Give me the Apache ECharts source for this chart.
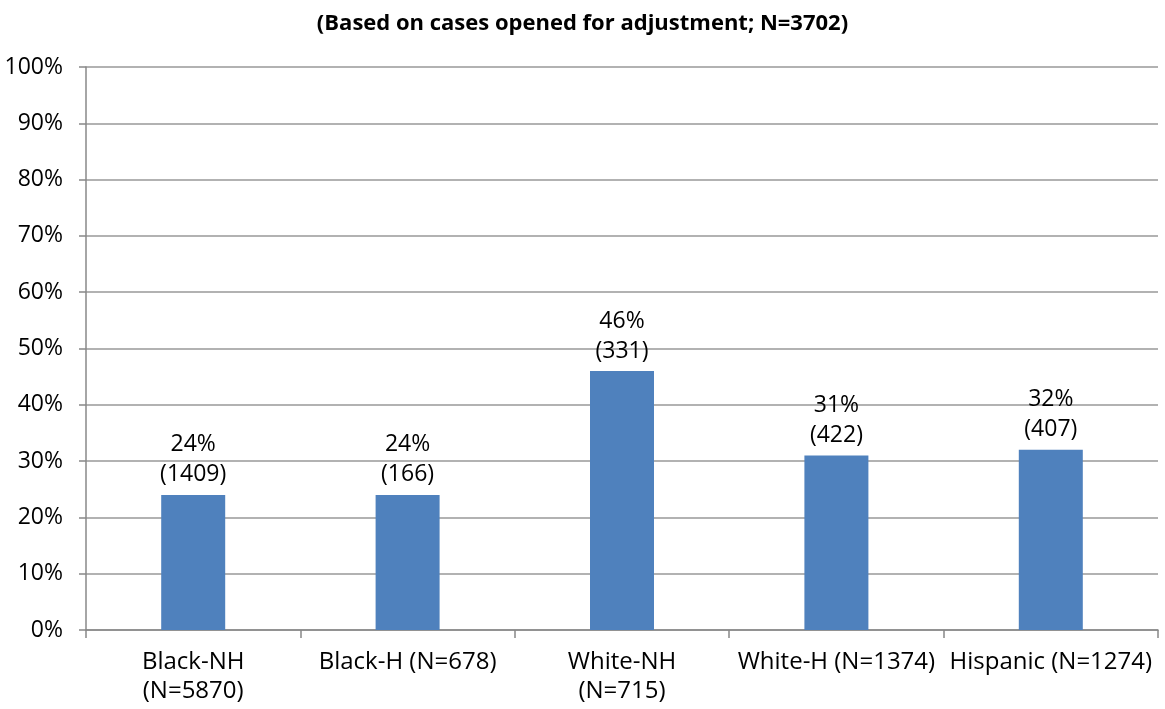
<!DOCTYPE html>
<html><head><meta charset="utf-8">
<script src="https://cdn.jsdelivr.net/npm/echarts@6/dist/echarts.min.js"></script>
<style>html,body{margin:0;padding:0;background:#fff}#c{width:1165px;height:709px}</style>
</head><body><div id="c"></div>
<script>
const categories = ["Black-NH\n(N=5870)", "Black-H (N=678)", "White-NH\n(N=715)", "White-H (N=1374)", "Hispanic (N=1274)"];
const percents = [24, 24, 46, 31, 32];
const counts = [1409, 166, 331, 422, 407];
const yTicks = [0, 10, 20, 30, 40, 50, 60, 70, 80, 90, 100];
const titleText = "(Based on cases opened for adjustment; N=3702)";

const FONT = "Open Sans";
const chart = echarts.init(document.getElementById('c'), null, {renderer: 'canvas'});
chart.setOption({
  animation: false,
  backgroundColor: '#fff',
  title: {
    text: titleText, left: 'center', top: 8,
    textStyle: {fontFamily: FONT, fontSize: 22, fontWeight: 'bold', color: '#000'}
  },
  grid: {left: 86, right: 7, top: 67, bottom: 79, containLabel: false},
  xAxis: {
    type: 'category', data: categories,
    axisLine: {lineStyle: {color: '#888', width: 1.5}},
    axisTick: {show: true, length: 8, lineStyle: {color: '#888', width: 1.5}},
    axisLabel: {fontFamily: FONT, fontSize: 24, color: '#000', margin: 18, lineHeight: 29, interval: 0}
  },
  yAxis: {
    type: 'value', min: yTicks[0], max: yTicks[yTicks.length - 1], interval: 10,
    axisLine: {show: true, lineStyle: {color: '#888', width: 1.5}},
    axisTick: {show: true, length: 7, lineStyle: {color: '#888', width: 1.5}},
    splitLine: {lineStyle: {color: '#999', width: 1.5}},
    axisLabel: {fontFamily: FONT, fontSize: 23, color: '#000', margin: 23, formatter: v => v + '%'}
  },
  series: [{
    type: 'bar', data: percents, barWidth: 64,
    itemStyle: {color: '#4f81bd'},
    label: {
      show: true, position: 'top', distance: 5,
      fontFamily: FONT, fontSize: 23, color: '#000', lineHeight: 30,
      formatter: p => p.value + '%\n(' + counts[p.dataIndex] + ')'
    }
  }]
});
</script></body></html>
